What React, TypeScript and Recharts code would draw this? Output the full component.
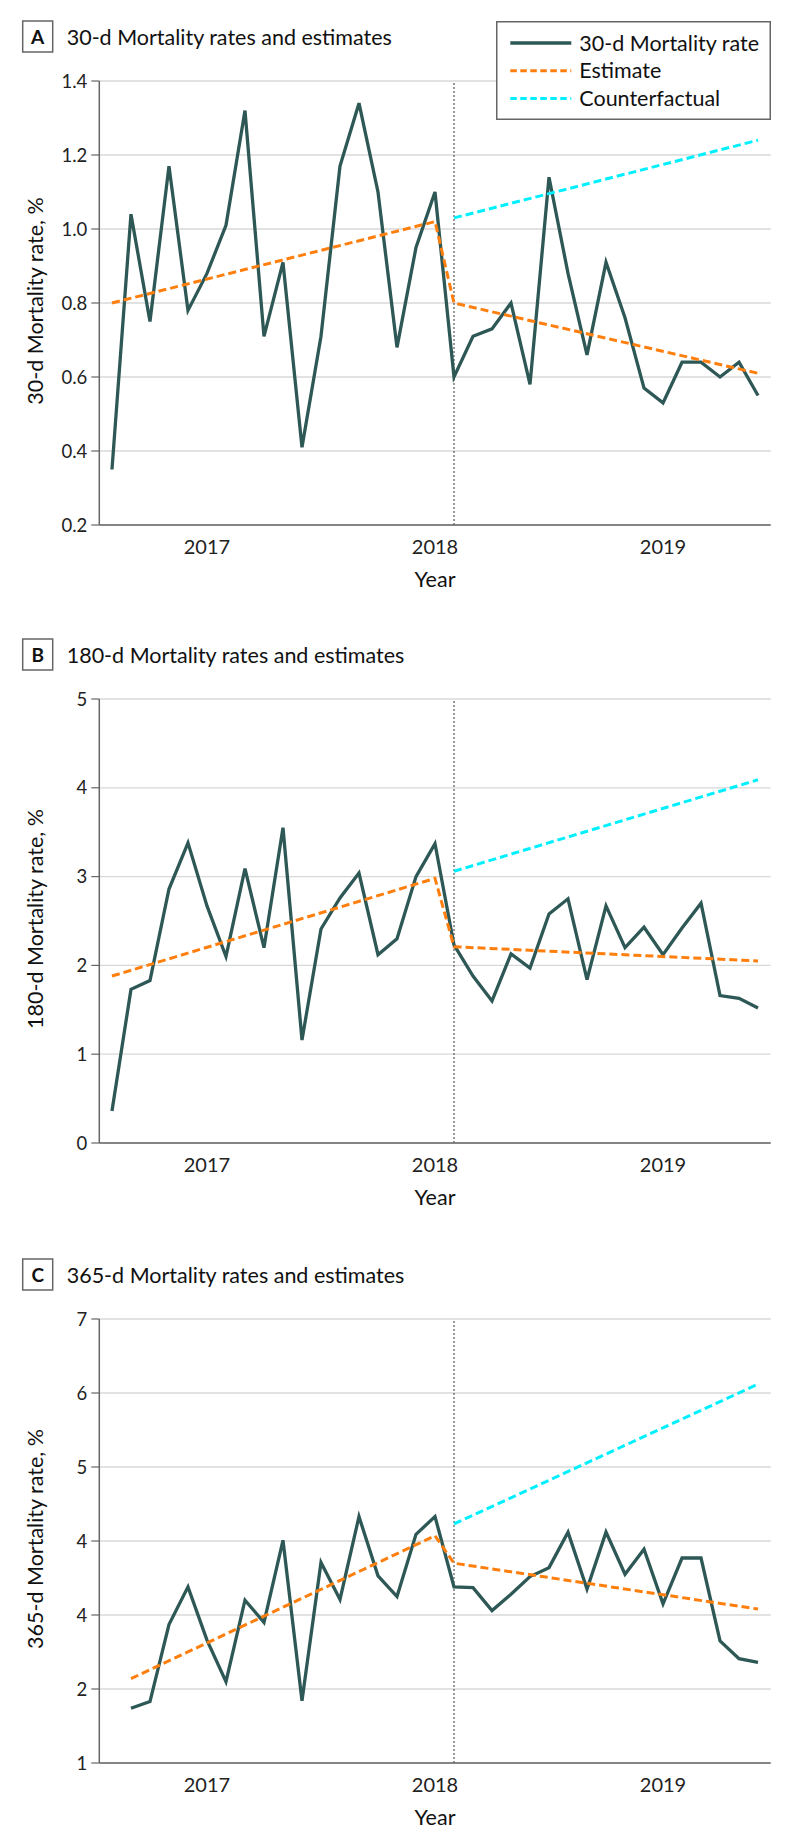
import React from "react";
import { LineChart, Line, XAxis, YAxis, CartesianGrid, ReferenceLine, Legend, Label } from "recharts";

if (typeof document !== "undefined") document.body.style.margin = "0";

const FONT = "Lato, 'Noto Sans', sans-serif";
const RATE_COLOR = "#2d5855";
const EST_COLOR = "#ff7f0e";
const CF_COLOR = "#00f0ff";
const AXIS_COLOR = "#666";

// x = month index, 0 = Aug 2016 ... 34 = Jun 2019
const yearTicks = [5, 17, 29];
const yearLabels = ["2017", "2018", "2019"];
const interventionIdx = 18;

// 30-d
const rate30 = [
  0.35, 1.04, 0.75, 1.17, 0.78, 0.88, 1.01, 1.32, 0.71, 0.91, 0.41, 0.71, 1.17, 1.34, 1.1, 0.68, 0.95, 1.1,
  0.6, 0.71, 0.73, 0.8, 0.58, 1.14, 0.88, 0.66, 0.91, 0.76, 0.57, 0.53, 0.64, 0.64, 0.6, 0.64, 0.55,
];
const est30Idx = [0, 17, 18, 34];
const est30 = [0.8, 1.02, 0.8, 0.61];
const cf30Idx = [18, 34];
const cf30 = [1.03, 1.24];
const yTicks30 = [0.2, 0.4, 0.6, 0.8, 1.0, 1.2, 1.4];
const yTickLabels30 = ["0.2", "0.4", "0.6", "0.8", "1.0", "1.2", "1.4"];

// 180-d
const rate180 = [
  0.36, 1.73, 1.83, 2.86, 3.38, 2.67, 2.1, 3.09, 2.2, 3.55, 1.16, 2.41, 2.76, 3.04, 2.12, 2.3, 3.0, 3.37,
  2.23, 1.88, 1.6, 2.13, 1.97, 2.58, 2.75, 1.84, 2.67, 2.2, 2.43, 2.12, 2.42, 2.7, 1.66, 1.63, 1.52,
];
const est180Idx = [0, 17, 18, 34];
const est180 = [1.88, 2.98, 2.21, 2.05];
const cf180Idx = [18, 34];
const cf180 = [3.06, 4.09];
const yTicks180 = [0, 1, 2, 3, 4, 5];
const yTickLabels180 = ["0", "1", "2", "3", "4", "5"];

// 365-d (series starts one month later)
const rate365 = [
  null, 1.74, 1.83, 2.87, 3.38, 2.66, 2.1, 3.2, 2.9, 4.01, 1.84, 3.71, 3.21, 4.33, 3.53, 3.25, 4.09, 4.33,
  3.38, 3.37, 3.06, 3.28, 3.52, 3.64, 4.12, 3.35, 4.12, 3.55, 3.89, 3.15, 3.77, 3.77, 2.65, 2.41, 2.36,
];
const est365Idx = [1, 17, 18, 34];
const est365 = [2.14, 4.07, 3.7, 3.08];
const cf365Idx = [18, 34];
const cf365 = [4.23, 6.12];
const yTicks365 = [1, 2, 3, 4, 5, 6, 7];
const yTickLabels365 = ["1", "2", "4", "4", "5", "6", "7"];

const legendItems = [
  { label: "30-d Mortality rate", color: RATE_COLOR, dash: undefined as string | undefined },
  { label: "Estimate", color: EST_COLOR, dash: "6.5 3.5" },
  { label: "Counterfactual", color: CF_COLOR, dash: "6.5 3.5" },
];

const LegendBox = () => (
  <svg width={275} height={99} style={{ display: "block" }}>
    <rect x={0.75} y={0.75} width={273.5} height={97.5} fill="#fff" stroke={AXIS_COLOR} strokeWidth={1.5} />
    {legendItems.map((it, k) => {
      const cy = 22 + k * 27.8;
      return (
        <g key={it.label}>
          <line x1={14.3} x2={75.3} y1={cy} y2={cy} stroke={it.color} strokeWidth={it.dash ? 3 : 3.7} strokeDasharray={it.dash} />
          <text x={83.3} y={cy + 7.6} fontSize={21.5} fill="#111" fontFamily={FONT}>
            {it.label}
          </text>
        </g>
      );
    })}
  </svg>
);

const XTick = (props: any) => {
  const { x, y, payload } = props;
  return (
    <text x={x} y={y + 28.7} textAnchor="middle" fontSize={20} fill="#222" fontFamily={FONT}>
      {yearLabels[yearTicks.indexOf(payload.value)]}
    </text>
  );
};

interface PanelProps {
  top: number;
  letter: string;
  title: string;
  yLabel: string;
  rates: (number | null)[];
  estIdx: number[];
  est: number[];
  cfIdx: number[];
  cf: number[];
  yTicks: number[];
  yTickLabels: string[];
  legend?: boolean;
}

const Panel = ({ top, letter, title, yLabel, rates, estIdx, est, cfIdx, cf, yTicks, yTickLabels, legend }: PanelProps) => {
  const rateRows = rates.map((v, i) => ({ i, v }));
  const estRows = estIdx.map((i, k) => ({ i, v: est[k] }));
  const cfRows = cfIdx.map((i, k) => ({ i, v: cf[k] }));

  return (
    <div style={{ position: "absolute", left: 0, top, width: 794, height: 619 }}>
      <LineChart width={794} height={619} margin={{ top: 81, right: 23.3, bottom: 0, left: 0 }}>
        <CartesianGrid vertical={false} stroke="#d8d8d8" strokeWidth={1.3} />
        <XAxis
          type="number"
          dataKey="i"
          domain={[-0.667, 34.667]}
          ticks={yearTicks}
          height={94}
          tickLine={false}
          tickSize={0}
          tickMargin={0}
          tick={<XTick />}
          axisLine={{ stroke: AXIS_COLOR, strokeWidth: 1.5 }}
        >
          <Label
            content={(p: any) => {
              const vb = p.viewBox;
              return (
                <text x={vb.x + vb.width / 2} y={vb.y + 62} textAnchor="middle" fontSize={21.5} fill="#111" fontFamily={FONT}>
                  Year
                </text>
              );
            }}
          />
        </XAxis>
        <YAxis
          type="number"
          domain={[yTicks[0], yTicks[yTicks.length - 1]]}
          ticks={yTicks}
          width={99.3}
          tickSize={8}
          tickMargin={4}
          tickFormatter={(v: number) => yTickLabels[yTicks.indexOf(v)]}
          tick={{ fontSize: 18.5, fill: "#222", fontFamily: FONT }}
          tickLine={{ stroke: AXIS_COLOR, strokeWidth: 1.2 }}
          axisLine={{ stroke: AXIS_COLOR, strokeWidth: 1.5 }}
        >
          <Label
            content={(p: any) => {
              const vb = p.viewBox;
              const cx = 42.7;
              const cy = vb.y + vb.height / 2 - 2;
              return (
                <text x={cx} y={cy} transform={`rotate(-90 ${cx} ${cy})`} textAnchor="middle" fontSize={21.5} fill="#111" fontFamily={FONT}>
                  {yLabel}
                </text>
              );
            }}
          />
        </YAxis>
        <ReferenceLine x={interventionIdx} stroke="#555" strokeWidth={1.2} strokeDasharray="2 2" />
        <Line data={rateRows} dataKey="v" type="linear" stroke={RATE_COLOR} strokeWidth={3.3} dot={false} activeDot={false} isAnimationActive={false} />
        <Line data={estRows} dataKey="v" type="linear" stroke={EST_COLOR} strokeWidth={3} strokeDasharray="8 4" dot={false} activeDot={false} isAnimationActive={false} />
        <Line data={cfRows} dataKey="v" type="linear" stroke={CF_COLOR} strokeWidth={3} strokeDasharray="8 4" dot={false} activeDot={false} isAnimationActive={false} />
        {legend && (
          <Legend
            layout="horizontal"
            verticalAlign="middle"
            align="center"
            content={() => <LegendBox />}
            wrapperStyle={{ left: 495.7, top: 20.7, width: 275, height: 99, lineHeight: 0 }}
          />
        )}
      </LineChart>
      <svg width={794} height={60} style={{ position: "absolute", left: 0, top: 0, pointerEvents: "none" }}>
        <rect x={22.7} y={21} width={30} height={31} fill="#fff" stroke={AXIS_COLOR} strokeWidth={1.5} />
        <text x={37.7} y={44} textAnchor="middle" fontSize={19} fontWeight="bold" fill="#111" fontFamily={FONT}>
          {letter}
        </text>
        <text x={66.7} y={45} fontSize={21.5} fill="#111" fontFamily={FONT}>
          {title}
        </text>
      </svg>
    </div>
  );
};

export default function App() {
  return (
    <div style={{ position: "relative", width: 794, height: 1847, background: "#fff", fontFamily: FONT }}>
      <Panel
        top={0}
        letter="A"
        title="30-d Mortality rates and estimates"
        yLabel="30-d Mortality rate, %"
        rates={rate30}
        estIdx={est30Idx}
        est={est30}
        cfIdx={cf30Idx}
        cf={cf30}
        yTicks={yTicks30}
        yTickLabels={yTickLabels30}
        legend
      />
      <Panel
        top={618.3}
        letter="B"
        title="180-d Mortality rates and estimates"
        yLabel="180-d Mortality rate, %"
        rates={rate180}
        estIdx={est180Idx}
        est={est180}
        cfIdx={cf180Idx}
        cf={cf180}
        yTicks={yTicks180}
        yTickLabels={yTickLabels180}
      />
      <Panel
        top={1238}
        letter="C"
        title="365-d Mortality rates and estimates"
        yLabel="365-d Mortality rate, %"
        rates={rate365}
        estIdx={est365Idx}
        est={est365}
        cfIdx={cf365Idx}
        cf={cf365}
        yTicks={yTicks365}
        yTickLabels={yTickLabels365}
      />
    </div>
  );
}
